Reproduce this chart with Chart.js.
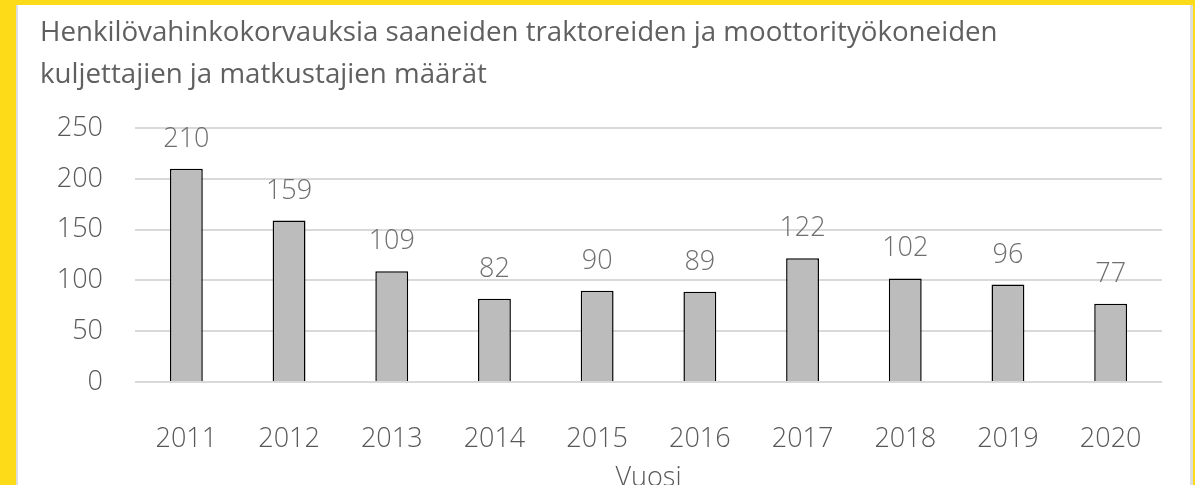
<!DOCTYPE html>
<html>
<head>
<meta charset="utf-8">
<script src="https://cdn.jsdelivr.net/npm/chart.js@4.4.1/dist/chart.umd.min.js"></script>
<style>
  html, body { margin: 0; padding: 0; overflow: hidden; background: #FDDB19; }
  #wrap { position: absolute; left: 16px; top: 5px; width: 1172px; height: 495px;
          background: #fff; border-left: 2px solid #dedede; border-right: 3px solid #dedede; }
  canvas { display: block; }
</style>
</head>
<body>
<div id="wrap"><canvas id="graph" width="1172" height="495"></canvas></div>
<script>
const vuodet = ["2011", "2012", "2013", "2014", "2015", "2016", "2017", "2018", "2019", "2020"];
const maarat = [210, 159, 109, 82, 90, 89, 122, 102, 96, 77];
const otsikko = ["Henkilövahinkokorvauksia saaneiden traktoreiden ja moottorityökoneiden",
                 "kuljettajien ja matkustajien määrät"];

const fontti = "'Open Sans', sans-serif";

// arvot pylväiden yläpuolelle
const arvoLabelit = {
  id: "arvoLabelit",
  afterDatasetsDraw(chart) {
    const ctx = chart.ctx;
    const meta = chart.getDatasetMeta(0);
    ctx.save();
    ctx.font = "300 27px " + fontti;
    ctx.fillStyle = "#6f6f6f";
    ctx.textAlign = "center";
    ctx.textBaseline = "alphabetic";
    meta.data.forEach((bar, i) => {
      ctx.fillText(String(maarat[i]), bar.x, bar.y - 22);
    });
    ctx.restore();
  }
};

const graph = document.getElementById("graph").getContext("2d");
const myChart = new Chart(graph, {
  type: "bar",
  data: {
    labels: vuodet,
    datasets: [{
      data: maarat,
      backgroundColor: "#BCBCBC",
      borderColor: "#000000",
      borderWidth: 1.5,
      categoryPercentage: 1,
      barPercentage: 0.32
    }]
  },
  options: {
    responsive: false,
    animation: false,
    layout: { padding: { left: 22, right: 28, top: 0, bottom: 0 } },
    plugins: {
      legend: { display: false },
      tooltip: { enabled: false },
      title: {
        display: true,
        text: otsikko,
        align: "start",
        color: "#606060",
        font: { family: fontti, size: 27.7, weight: "normal", lineHeight: 1.52 },
        padding: { top: 7, bottom: 32 }
      }
    },
    scales: {
      x: {
        grid: { display: false },
        border: { display: false },
        ticks: { color: "#595959", font: { family: fontti, size: 27, weight: 300 }, padding: 33 },
        title: {
          display: true, text: "Vuosi", color: "#595959",
          font: { family: fontti, size: 27, weight: 300 }, padding: { top: 0, bottom: 5 }
        },
        afterFit(scale) { scale.height = 118; }
      },
      y: {
        min: 0, max: 250,
        ticks: { stepSize: 50, color: "#595959", font: { family: fontti, size: 27, weight: 300 }, padding: 32 },
        grid: { color: "#D9D9D9", lineWidth: 2, drawTicks: false },
        border: { display: false },
        afterFit(scale) { scale.width = 95; }
      }
    }
  },
  plugins: [arvoLabelit]
});
</script>
</body>
</html>
